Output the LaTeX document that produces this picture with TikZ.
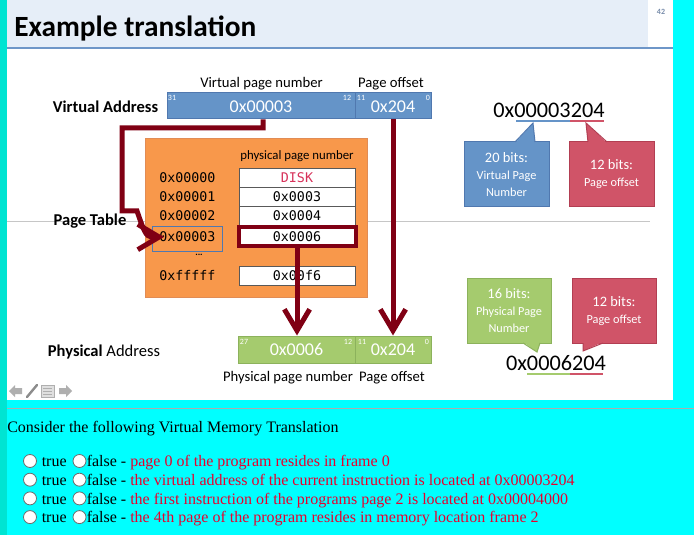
\documentclass[tikz,border=0pt]{standalone}
\usepackage{fontspec}
\setmainfont{Carlito}
\newfontfamily\monofont{DejaVu Sans Mono}
\newfontfamily\serifont{Liberation Serif}
\usetikzlibrary{arrows.meta,calc}
\definecolor{leftstrip}{RGB}{0,228,210}
\definecolor{cyanbg}{RGB}{0,255,255}
\definecolor{titlebg}{RGB}{230,238,248}
\definecolor{titleline}{RGB}{110,150,200}
\definecolor{pgnum}{RGB}{120,140,170}
\definecolor{vblue}{RGB}{101,148,200}
\definecolor{vblueborder}{RGB}{80,120,175}
\definecolor{orangefill}{RGB}{248,152,75}
\definecolor{orangeborder}{RGB}{225,140,85}
\definecolor{pgreen}{RGB}{165,203,110}
\definecolor{pgreenborder}{RGB}{140,178,92}
\definecolor{cred}{RGB}{208,84,104}
\definecolor{credborder}{RGB}{178,62,82}
\definecolor{arrowred}{RGB}{128,0,20}
\definecolor{diskred}{RGB}{215,50,90}
\definecolor{qred}{RGB}{232,0,45}
\definecolor{navgray}{RGB}{175,175,175}
\begin{document}
\begin{tikzpicture}[x=0.75pt,y=-0.75pt,
  vbox/.style={draw=vblueborder, fill=vblue, line width=0.75pt, minimum height=19.5pt, inner sep=0pt,
    text=white, font=\fontsize{13.5}{16}\selectfont, text height=10pt, text depth=0pt},
  gbox/.style={draw=pgreenborder, fill=pgreen, line width=0.75pt, minimum height=20.25pt, inner sep=0pt,
    text=white, font=\fontsize{13.5}{16}\selectfont},
  bitno/.style={inner sep=0pt, text=white, font=\fontsize{6}{7}\selectfont},
  lbl/.style={inner sep=0pt, anchor=base, font=\fontsize{11}{13}\selectfont},
  side/.style={inner sep=0pt, anchor=base, font=\fontsize{12.4}{14}\selectfont},
  cell/.style={draw=gray!70!black, fill=white, line width=0.5pt, minimum width=87pt, minimum height=14.25pt,
    inner sep=0pt, font=\monofont\fontsize{10}{12}\selectfont},
  rowlbl/.style={inner sep=0pt, anchor=west, font=\monofont\fontsize{10}{12}\selectfont},
  conn/.style={draw=arrowred, line width=3.75pt, line join=miter, -{Straight Barb[length=16pt,width=19pt]}},
  callout/.style={line width=0.75pt, inner sep=0pt, text=white, align=center,
    font=\fontsize{9.2}{12.75}\selectfont},
  bigaddr/.style={inner sep=0pt, anchor=base, font=\fontsize{16.7}{20}\selectfont},
  radio/.style={circle, draw=gray!85!black, fill=white, line width=0.6pt, minimum size=9.75pt, inner sep=0pt},
  qtext/.style={inner sep=0pt, anchor=base west, font=\serifont\fontsize{12}{14}\selectfont}
]
\useasboundingbox (0,0) rectangle (694,535);
% backgrounds
\fill[cyanbg] (0,0) rectangle (694,535);
\fill[white] (7,0) rectangle (673,400);
\fill[leftstrip] (0,0) rectangle (7,535);
\fill[titlebg] (7,0) rectangle (648,47);
\draw[titleline, line width=1.5pt] (7,48) -- (673,48);
\draw[gray!65, line width=0.9pt] (7,408.5) -- (694,408.5);
\draw[gray!45, line width=0.6pt] (7,221) -- (650,221);

% title
\node[anchor=base west, inner sep=0pt, font=\fontsize{22}{26}\selectfont\bfseries] (title) at (14,37) {Example translation};
\node[inner sep=0pt, text=pgnum, font=\fontsize{6}{7}\selectfont\bfseries] (pg) at (661,12) {42};

% virtual address
\node[side, font=\fontsize{12.4}{14}\selectfont\bfseries] (valbl) at (105.5,113) {Virtual Address};
\node[lbl] (vpnlbl) at (261.5,88) {Virtual page number};
\node[lbl] (voflbl) at (391,88) {Page offset};
\node[vbox, minimum width=141pt] (vpn) at (261,106) {0x00003};
\node[vbox, minimum width=57pt] (vof) at (393,106) {0x204};
\node[bitno] (b31) at (172,98) {31};
\node[bitno] (b12) at (347,98) {12};
\node[bitno] (b11) at (361,98) {11};
\node[bitno] (b0) at (428,98) {0};

% page table
\node[side, font=\fontsize{12.4}{14}\selectfont\bfseries] (ptlbl) at (90,226) {Page Table};
\node[draw=orangeborder, fill=orangefill, line width=0.75pt, minimum width=166.5pt, minimum height=119.25pt, inner sep=0pt] (ptab) at (256,218.5) {};
\node[inner sep=0pt, anchor=base, font=\fontsize{9.6}{11}\selectfont] (ppnhead) at (297,160) {physical page number};
\node[cell] (c0) at (297,177.5) {\textcolor{diskred}{DISK}};
\node[cell] (c1) at (297,196.5) {0x0003};
\node[cell] (c2) at (297,215.5) {0x0004};
\node[cell, draw=arrowred, line width=3pt, minimum width=87.75pt] (c3) at (297,237) {0x0006};
\node[cell] (c4) at (297,275.5) {0x00f6};
\node[rowlbl] (l0) at (159,177.5) {0x00000};
\node[rowlbl] (l1) at (159,196.5) {0x00001};
\node[rowlbl] (l2) at (159,215.5) {0x00002};
\node[draw=vblueborder, line width=0.75pt, minimum width=52.5pt, minimum height=18.75pt, inner sep=0pt] (l3box) at (187,239.5) {};
\node[rowlbl] (l3) at (159,237) {0x00003};
\node[inner sep=0pt, font=\fontsize{7}{8}\selectfont\bfseries] (dots) at (199,255) {...};
\node[rowlbl] (l4) at (159,275.5) {0xfffff};

% physical address
\node[side] (palbl) at (104,357) {\textbf{Physical} Address};
\node[gbox, minimum width=87.75pt] (ppn) at (296.5,349.5) {0x0006};
\node[gbox, minimum width=57pt] (pof) at (393,349.5) {0x204};
\node[bitno] (g27) at (244,342) {27};
\node[bitno] (g12) at (348,342) {12};
\node[bitno] (g11) at (362,342) {11};
\node[bitno] (g0) at (427,342) {0};
\node[lbl] (ppnlbl) at (288,381) {Physical page number};
\node[lbl] (poflbl) at (392,381) {Page offset};

% connectors
\coordinate (a1) at (164,237);
\draw[conn] ([xshift=1.5pt]vpn.south) |- (122,128) -- (122,211) -- (137,211) .. controls (146,237) .. (a1);
\draw[conn] (c3.south) -- (c3.south |- ppn.north);
\draw[conn] (vof.south) -- (pof.north);

% right side: virtual address decomposition
\node[bigaddr] (va) at (549,118) {0x00003204};
\draw[vblue, line width=1.1pt] (516,121) -- (570,121);
\draw[cred, line width=1.1pt] (570,121) -- (604,121);
\node[callout, draw=vblueborder, fill=vblue, minimum width=63.75pt, minimum height=48.75pt] (cb1) at (506.5,174.5)
  {{\fontsize{10.8}{12.75}\selectfont 20 bits:}\\Virtual Page\\Number};
\fill[vblue] (515,143) -- (533,123) -- (535,143) -- cycle;
\draw[vblueborder, line width=0.75pt] (515,142) -- (533,123) -- (535,142);
\node[callout, draw=credborder, fill=cred, minimum width=63.75pt, minimum height=48.75pt] (cr1) at (611.5,174.5)
  {{\fontsize{10.8}{12.75}\selectfont 12 bits:}\\Page offset};
\fill[cred] (588,143) -- (586,123) -- (607,143) -- cycle;
\draw[credborder, line width=0.75pt] (588,142) -- (586,123) -- (607,142);

% right side: physical address decomposition
\node[callout, draw=pgreenborder, fill=pgreen, minimum width=63pt, minimum height=48pt] (cg) at (509,311)
  {{\fontsize{10.8}{12.75}\selectfont 16 bits:}\\Physical Page\\Number};
\fill[pgreen] (523,342) -- (537,352) -- (540,342) -- cycle;
\draw[pgreenborder, line width=0.75pt] (523,343) -- (537,352) -- (540,343);
\node[callout, draw=credborder, fill=cred, minimum width=63pt, minimum height=48pt] (cr2) at (614,311)
  {{\fontsize{10.8}{12.75}\selectfont 12 bits:}\\Page offset};
\fill[cred] (583,342) -- (583,351) -- (603,342) -- cycle;
\draw[credborder, line width=0.75pt] (583,343) -- (583,351) -- (603,343);
\node[bigaddr] (pa) at (556,370) {0x0006204};
\draw[pgreen, line width=1.1pt] (527,374) -- (570,374);
\draw[cred, line width=1.1pt] (570,374) -- (603,374);

% navigation icons
\fill[navgray] (9,391) -- (15,385) -- (15,388) -- (22,388) -- (22,394) -- (15,394) -- (15,397) -- cycle;
\draw[navgray!80!black, line width=1.8pt, line cap=round] (27,397) -- (37,385);
\fill[navgray!40] (41,385) rectangle (54,397);
\draw[navgray, line width=0.5pt] (41,385) rectangle (54,397);
\foreach \yy in {388,391,394} \draw[navgray, line width=0.6pt] (43,\yy) -- (52,\yy);
\fill[navgray] (72,391) -- (66,385) -- (66,388) -- (59,388) -- (59,394) -- (66,394) -- (66,397) -- cycle;

% question
\node[qtext] (q) at (7,432) {Consider the following Virtual Memory Translation};
\foreach \i/\txt in {0/{page 0 of the program resides in frame 0},
                     1/{the virtual address of the current instruction is located at 0x00003204},
                     2/{the first instruction of the programs page 2 is located at 0x00004000},
                     3/{the 4th page of the program resides in memory location frame 2}}{
  \pgfmathsetmacro{\yb}{466.7+18.7*\i}
  \pgfmathsetmacro{\yc}{\yb-5.7}
  \node[radio] (ra\i) at (30,\yc) {};
  \node[qtext] (ta\i) at (41.5,\yb) {true};
  \node[radio] (rb\i) at (79.5,\yc) {};
  \node[qtext] (tb\i) at (86.5,\yb) {false - \textcolor{qred}{\txt}};
}
\end{tikzpicture}
\end{document}
